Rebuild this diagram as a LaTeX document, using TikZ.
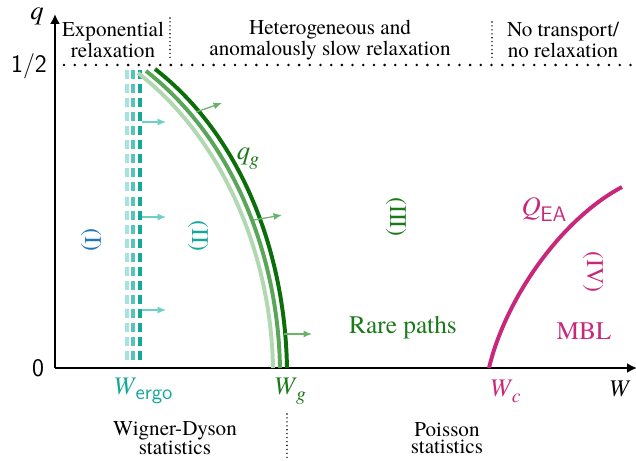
\documentclass[tikz,border=0pt]{standalone}
\usepackage{fontspec}
\setmainfont{texgyretermes}[Extension=.otf, UprightFont=*-regular, ItalicFont=*-italic, BoldFont=*-bold, BoldItalicFont=*-bolditalic]
\usepackage{xcolor}
\usetikzlibrary{arrows.meta, positioning}
\definecolor{ErgoTeal}{HTML}{14A898}
\definecolor{ErgoMid}{HTML}{55C4BA}
\definecolor{ErgoLight}{HTML}{A8E2DE}
\definecolor{ErgoArrow}{HTML}{6ECFC6}
\definecolor{PhaseBlue}{HTML}{2277BB}
\definecolor{GlassDark}{HTML}{0B6E0B}
\definecolor{GlassText}{HTML}{1A7A1A}
\definecolor{GlassMid}{HTML}{5AA55A}
\definecolor{GlassLight}{HTML}{B2D8B2}
\definecolor{GlassArrow}{HTML}{6AB46A}
\definecolor{MBLMagenta}{HTML}{C8287A}
\newcommand{\fsz}[1]{\fontsize{#1}{#1}\selectfont}
\newcommand{\symsub}[2]{\textit{#1}\kern-0.5pt\raisebox{-0.5ex}{#2}}

\begin{document}
\begin{tikzpicture}[x=0.025cm, y=-0.025cm,
    axis/.style={line width=2pt, -{Latex[length=7pt,width=7pt]}},
    hdr/.style={align=center, font=\fontsize{15}{12.4}\selectfont},
    dotrule/.style={line width=2pt, line cap=round, dash pattern=on 0pt off 7.6pt},
    divider/.style={line width=1.1pt, line cap=round, dash pattern=on 0pt off 2.8pt},
    ergoline/.style={line width=2.8pt, dash pattern=on 6.4pt off 3.6pt},
    push/.style={line width=0.9pt, -{Latex[length=6pt,width=5pt]}},
    glassline/.style={line width=2.8pt},
    phase/.style={rotate=-90, font=\fsz{17}}]
    \useasboundingbox (0,0) rectangle (636,460);

    % Axes
    \coordinate (O) at (55,368);
    \coordinate (qtop) at (55,14);
    \coordinate (Wend) at (637,368);
    \draw[axis] (O) -- (qtop);
    \draw[axis] (O) -- (Wend);
    \node (qlab) at (37,16) {\fsz{19}\textit{q}};
    \node[anchor=west] (Wlab) at (604,389) {\fsz{17}\textit{W}};
    \node (zero) at (38,368) {\fsz{18}\sffamily 0};
    \node (half) at (29,66) {\fsz{18}\sffamily 1/2};

    % Relaxation regimes (top)
    \draw[dotrule] (64,65) -- (636,65);
    \draw[divider] (170,18) -- (170,58);
    \draw[divider] (492,22) -- (492,58);
    \node[hdr] (hdrExp) at (113,40) {Exponential\\relaxation};
    \node[hdr] (hdrHet) at (330,40) {Heterogeneous and\\anomalously slow relaxation};
    \node[hdr] (hdrNone) at (563,40) {No transport/\\no relaxation};

    % Level statistics (bottom)
    \draw[divider] (287,414) -- (287,460);
    \node[hdr] (hdrWD) at (175,438) {Wigner-Dyson\\statistics};
    \node[hdr] (hdrPois) at (447,438) {Poisson\\statistics};

    % Ergodic boundary
    \draw[ergoline, ErgoLight] (127,70) -- (127,363);
    \draw[ergoline, ErgoMid] (133,70) -- (133,363);
    \draw[ergoline, ErgoTeal] (140,70) -- (140,363);
    \foreach \ya in {122,217,310}
        \draw[push, ErgoArrow] (142,\ya) -- (166,\ya);
    \node[ErgoTeal] (Wergo) at (143,391) {\fsz{18}\symsub{W}{\sffamily\fsz{15}ergo}};

    % Glass transition q_g
    \draw[glassline, GlassLight] (138,73) .. controls (223,139) and (271,254) .. (273,368);
    \draw[glassline, GlassMid] (146,71) .. controls (231,137) and (278,252) .. (280,368);
    \draw[glassline, GlassDark] (155,69) .. controls (240,135) and (285,250) .. (287,368);
    \draw[push, GlassArrow] (196,112) -- (222,103);
    \draw[push, GlassArrow] (254,220) -- (282,215);
    \draw[push, GlassArrow] (284,334) -- (312,334);
    \node[GlassText] (qg) at (248,159) {\fsz{19}\symsub{q}{\itshape\fsz{14}g}};
    \node[GlassText] (Wg) at (290,391) {\fsz{18}\symsub{W}{\itshape\fsz{14}g}};

    % MBL transition Q_EA
    \draw[glassline, MBLMagenta] (489,368) .. controls (505,300) and (560,220) .. (622,187);
    \node[MBLMagenta] (QEA) at (544,210) {\fsz{19}\symsub{Q}{\sffamily\fsz{15}EA}};
    \node[MBLMagenta] (Wc) at (505,391) {\fsz{18}\symsub{W}{\itshape\fsz{14}c}};

    % Phases
    \node[phase, PhaseBlue] (phI) at (91,240) {(I)};
    \node[phase, ErgoTeal] (phII) at (198,236) {(II)};
    \node[phase, GlassText] (phIII) at (396,217) {(III)};
    \node[phase, MBLMagenta] (phIV) at (593,272) {(IV)};
    \node[GlassText] (rare) at (403,328) {\fsz{18}Rare paths};
    \node[MBLMagenta] (mbl) at (584,331) {\fsz{18}MBL};
\end{tikzpicture}
\end{document}
